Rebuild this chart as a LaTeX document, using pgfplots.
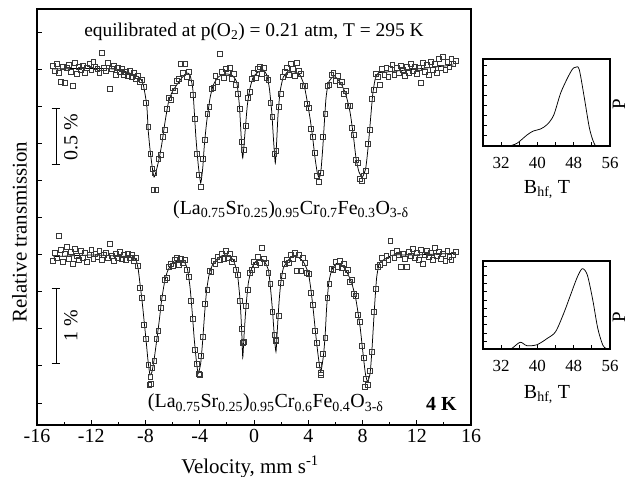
\documentclass[border=0pt]{standalone}
\usepackage{fontspec}
\setmainfont{Liberation Serif}
\usepackage{pgfplots}
\pgfplotsset{compat=1.18}
\begin{document}
\begin{tikzpicture}
\useasboundingbox (0,0) rectangle (630bp,477bp);
\pgfplotsset{
  myframe/.style={
    scale only axis, anchor=south west,
    tick pos=left, tick align=inside,
    axis line style={line width=1.1bp},
    every tick/.style={black, line width=0.8bp},
    major tick length=5bp, minor tick length=3bp,
    /pgf/number format/assume math mode=true,
    yticklabels={},
  },
  sq/.style={only marks, mark=square, mark size=2.4bp, mark options={draw=black!78, line width=0.6bp, fill=none}},
  fit/.style={black, line width=0.75bp, smooth, tension=0.35, mark=none},
}
% ---------------- main axis ----------------
\begin{axis}[myframe,
  at={(37bp,52bp)}, width=434bp, height=416bp,
  xmin=-16, xmax=16, ymin=0, ymax=416,
  xtick={-16,-12,...,16}, minor xtick={-14,-10,...,14},
  ytick={22,59.1,96.2,133.3,170.4,207.5,244.6,281.7,318.8,355.9,393},
  xticklabel style={font=\fontsize{20}{24}\selectfont, yshift=-1bp},
]
% 295 K spectrum
\addplot[sq] coordinates {
(-14.85,359) (-14.70,354) (-14.55,361) (-14.40,352) (-14.25,343) (-14.10,358) (-13.95,342) (-13.80,357)
(-13.65,360) (-13.50,353) (-13.35,339) (-13.20,362) (-13.05,351) (-12.90,358) (-12.75,355) (-12.60,359)
(-12.45,352) (-12.30,357) (-12.15,361) (-12.00,355) (-11.85,363) (-11.70,358) (-11.55,356) (-11.40,352)
(-11.25,372) (-11.10,357) (-10.95,354) (-10.80,362) (-10.65,336) (-10.50,356) (-10.35,359) (-10.20,350)
(-10.05,357) (-9.90,353) (-9.75,356) (-9.60,350) (-9.45,353) (-9.30,349) (-9.15,354) (-9.00,348)
(-8.85,352) (-8.70,346) (-8.55,349) (-8.40,343) (-8.25,345) (-8.10,338) (-7.95,322) (-7.80,298)
(-7.65,271) (-7.50,256) (-7.42,235) (-7.35,252) (-7.20,235) (-7.05,266) (-6.90,270) (-6.75,288)
(-6.60,295) (-6.45,316) (-6.30,327) (-6.15,325) (-6.00,337) (-5.85,334) (-5.70,344) (-5.55,346)
(-5.40,361) (-5.25,352) (-5.10,361) (-4.95,348) (-4.80,353) (-4.65,342) (-4.50,330) (-4.35,306)
(-4.20,271) (-4.05,250) (-3.90,238) (-3.75,266) (-3.60,285) (-3.45,311) (-3.30,318) (-3.15,336)
(-3.00,337) (-2.85,349) (-2.70,343) (-2.55,371) (-2.40,353) (-2.25,347) (-2.10,356) (-1.95,352)
(-1.80,357) (-1.65,346) (-1.50,351) (-1.35,340) (-1.20,331) (-1.05,316) (-0.90,283) (-0.75,275)
(-0.60,299) (-0.45,327) (-0.30,333) (-0.15,346) (0.00,352) (0.15,347) (0.30,356) (0.45,358)
(0.60,351) (0.75,357) (0.90,347) (1.05,345) (1.20,322) (1.35,308) (1.50,271) (1.65,274)
(1.80,318) (1.95,331) (2.10,348) (2.25,353) (2.40,357) (2.55,350) (2.70,361) (2.85,356)
(3.00,349) (3.15,362) (3.30,354) (3.45,351) (3.60,339) (3.75,339) (3.90,321) (4.05,317)
(4.20,296) (4.35,288) (4.50,272) (4.65,249) (4.80,243) (4.95,252) (5.10,288) (5.25,311)
(5.40,339) (5.55,340) (5.70,350) (5.85,352) (6.00,344) (6.15,349) (6.30,340) (6.45,343)
(6.60,331) (6.75,334) (6.90,319) (7.05,319) (7.20,297) (7.35,290) (7.50,265) (7.65,262)
(7.80,246) (7.95,244) (8.10,249) (8.25,254) (8.40,281) (8.55,295) (8.70,326) (8.85,335)
(9.00,351) (9.15,348) (9.30,340) (9.45,356) (9.60,350) (9.75,357) (9.90,348) (10.05,356)
(10.20,360) (10.35,350) (10.50,357) (10.65,352) (10.80,359) (10.95,355) (11.10,349) (11.25,358)
(11.40,352) (11.55,361) (11.70,354) (11.85,358) (12.00,351) (12.15,357) (12.30,342) (12.45,362)
(12.60,353) (12.75,360) (12.90,350) (13.05,363) (13.20,355) (13.35,361) (13.50,352) (13.65,366)
(13.80,357) (13.95,368) (14.10,355) (14.25,363) (14.40,358) (14.55,366) (14.70,361) (14.85,364)
};
\addplot[fit] coordinates {
(-14.8,356) (-13,356.5) (-11,356.5) (-10,355.5) (-9.6,354) (-9.0,351) (-8.4,347) (-8.16,340)
(-7.91,320) (-7.79,293) (-7.62,270) (-7.37,248) (-7.05,263) (-6.81,280) (-6.56,303) (-6.32,322)
(-6.07,332) (-5.70,340) (-5.33,347) (-4.96,352) (-4.72,350) (-4.52,337) (-4.40,313) (-4.28,287)
(-4.11,260) (-3.93,242) (-3.78,257) (-3.66,280) (-3.49,303) (-3.24,327) (-3.0,340) (-2.63,348)
(-2.14,351) (-1.65,350) (-1.28,343) (-1.08,320) (-0.94,287) (-0.83,267) (-0.66,293) (-0.49,320)
(-0.29,337) (-0.05,348) (0.32,353) (0.69,355) (0.94,350) (1.13,337) (1.31,313) (1.43,287)
(1.57,262) (1.67,283) (1.77,310) (1.92,333) (2.16,348) (2.53,353) (3.02,353) (3.39,350)
(3.69,340) (3.88,327) (4.13,307) (4.33,287) (4.50,267) (4.67,252) (4.82,247) (4.94,255)
(5.07,277) (5.19,303) (5.31,327) (5.48,342) (5.80,348) (6.10,347) (6.47,340) (6.78,330)
(7.08,313) (7.32,290) (7.52,267) (7.74,253) (7.99,248) (8.24,257) (8.43,280) (8.60,307)
(8.75,330) (8.92,345) (9.17,352) (9.78,353) (11.26,355) (12.73,357) (14.7,360)
};
% 4 K spectrum
\addplot[sq] coordinates {
(-14.85,164) (-14.70,172) (-14.55,167) (-14.40,189) (-14.25,175) (-14.10,163) (-13.95,171) (-13.80,178)
(-13.65,166) (-13.50,173) (-13.35,161) (-13.20,176) (-13.05,169) (-12.90,165) (-12.75,174) (-12.60,167)
(-12.45,172) (-12.30,163) (-12.15,170) (-12.00,175) (-11.85,166) (-11.70,171) (-11.55,168) (-11.40,174)
(-11.25,165) (-11.10,170) (-10.95,172) (-10.80,167) (-10.65,181) (-10.50,169) (-10.35,164) (-10.20,171)
(-10.05,167) (-9.90,173) (-9.75,166) (-9.60,170) (-9.45,165) (-9.30,171) (-9.15,167) (-9.00,170)
(-8.85,164) (-8.70,167) (-8.55,159) (-8.40,137) (-8.25,127) (-8.10,100) (-7.95,86) (-7.80,60)
(-7.72,40) (-7.65,48) (-7.60,41) (-7.50,57) (-7.35,64) (-7.20,86) (-7.05,94) (-6.90,117) (-6.75,127)
(-6.60,145) (-6.45,147) (-6.30,158) (-6.15,161) (-6.00,159) (-5.85,165) (-5.70,167) (-5.55,160)
(-5.40,166) (-5.25,162) (-5.10,165) (-4.95,155) (-4.80,148) (-4.65,124) (-4.50,106) (-4.35,75)
(-4.20,61) (-4.05,51) (-3.97,50) (-3.90,69) (-3.75,88) (-3.60,121) (-3.45,135) (-3.30,154) (-3.15,153)
(-3.00,164) (-2.85,161) (-2.70,168) (-2.55,165) (-2.40,171) (-2.25,166) (-2.10,174) (-1.95,167)
(-1.80,171) (-1.65,163) (-1.50,166) (-1.35,155) (-1.20,150) (-1.05,124) (-0.90,96) (-0.84,82)
(-0.75,83) (-0.60,119) (-0.45,135) (-0.30,152) (-0.15,155) (0.00,163) (0.15,160) (0.30,168)
(0.45,162) (0.60,177) (0.75,166) (0.90,162) (1.05,152) (1.20,141) (1.35,113) (1.50,90) (1.58,84)
(1.65,85) (1.80,109) (1.95,142) (2.10,149) (2.25,161) (2.40,165) (2.55,162) (2.70,170) (2.85,166)
(3.00,172) (3.15,154) (3.30,170) (3.45,154) (3.60,167) (3.75,162) (3.90,152) (4.05,151)
(4.20,132) (4.35,120) (4.50,94) (4.65,82) (4.80,60) (4.90,50) (4.95,52) (5.10,71) (5.25,87)
(5.40,127) (5.55,141) (5.70,156) (5.85,155) (6.00,163) (6.15,158) (6.30,164) (6.45,157)
(6.60,161) (6.75,152) (6.90,155) (7.05,143) (7.20,145) (7.35,131) (7.50,129) (7.65,110)
(7.80,103) (7.95,79) (8.10,67) (8.18,38) (8.25,46) (8.40,40) (8.55,54) (8.70,73) (8.85,113)
(9.00,136) (9.15,158) (9.30,160) (9.45,167) (9.60,162) (9.75,169) (9.90,165) (10.05,184)
(10.20,172) (10.35,167) (10.50,174) (10.65,170) (10.80,158) (10.95,171) (11.10,166) (11.25,158)
(11.40,173) (11.55,169) (11.70,176) (11.85,167) (12.00,172) (12.15,165) (12.30,175) (12.45,161)
(12.60,170) (12.75,174) (12.90,168) (13.05,172) (13.20,165) (13.35,177) (13.50,169) (13.65,173)
(13.80,166) (13.95,171) (14.10,164) (14.25,174) (14.40,168) (14.55,165) (14.70,170) (14.85,173)
};
\addplot[fit] coordinates {
(-14.8,168.3) (-12,170) (-10,169) (-9.14,168.3) (-8.70,165) (-8.53,155) (-8.41,141.7) (-8.26,125)
(-8.11,105) (-7.96,85) (-7.82,65) (-7.67,50) (-7.52,53.3) (-7.37,65) (-7.17,85) (-6.98,105)
(-6.81,125) (-6.61,141.7) (-6.39,153.3) (-6.07,161) (-5.58,164.3) (-5.16,163.3) (-4.92,156.7) (-4.72,138.3)
(-4.55,111.7) (-4.40,85) (-4.23,61.7) (-4.11,51.7) (-3.93,61.7) (-3.78,85) (-3.64,111.7) (-3.49,135)
(-3.29,151.7) (-3.0,161.7) (-2.51,168.3) (-2.01,170) (-1.53,165) (-1.23,151.7) (-1.03,125) (-0.91,95)
(-0.83,67.5) (-0.74,88.3) (-0.59,118.3) (-0.42,141.7) (-0.17,156.7) (0.20,164.3) (0.69,165) (1.06,155)
(1.23,135) (1.38,111.7) (1.50,88.3) (1.62,73.3) (1.72,95) (1.84,121.7) (1.97,141.7) (2.16,156.7)
(2.53,165) (2.90,169) (3.27,167.7) (3.64,163.3) (4.01,151.7) (4.20,135) (4.37,115) (4.57,88.3)
(4.74,68.3) (4.92,53.3) (5.11,68.3) (5.24,88.3) (5.36,118.3) (5.51,141.7) (5.73,155) (6.10,161.7)
(6.47,160) (6.84,153.3) (7.21,141.7) (7.52,125) (7.82,98.3) (8.01,75) (8.21,51.7) (8.38,43.3)
(8.56,51.7) (8.68,71.7) (8.80,98.3) (8.92,125) (9.05,148.3) (9.24,161.7) (9.54,165) (10.28,170)
(11.75,170) (14.82,171.7)
};
% scale bars
\draw[line width=0.9bp] (axis cs:-14.6,317) -- (axis cs:-14.6,261);
\draw[line width=0.9bp] (axis cs:-14.92,317) -- (axis cs:-14.30,317);
\draw[line width=0.9bp] (axis cs:-14.92,261) -- (axis cs:-14.30,261);
\node[rotate=90, font=\fontsize{20}{24}\selectfont] at (axis cs:-13.5,287.5) {0.5 \%};
\draw[line width=0.9bp] (axis cs:-14.6,137) -- (axis cs:-14.6,62);
\draw[line width=0.9bp] (axis cs:-14.92,137) -- (axis cs:-14.30,137);
\draw[line width=0.9bp] (axis cs:-14.92,62) -- (axis cs:-14.30,62);
\node[rotate=90, font=\fontsize{20}{24}\selectfont] at (axis cs:-13.5,99) {1 \%};
% texts
\node[font=\fontsize{19.5}{23}\selectfont] at (rel axis cs:0.5,0.945) {equilibrated at p(O\textsubscript{2}) = 0.21 atm, T = 295 K};
\node[anchor=base, font=\fontsize{20}{24}\selectfont] at (rel axis cs:0.585,0.507)
  {(La\textsubscript{0.75}Sr\textsubscript{0.25})\textsubscript{0.95}Cr\textsubscript{0.7}Fe\textsubscript{0.3}O\textsubscript{3-δ}};
\node[anchor=base, font=\fontsize{20}{24}\selectfont] at (rel axis cs:0.527,0.041)
  {(La\textsubscript{0.75}Sr\textsubscript{0.25})\textsubscript{0.95}Cr\textsubscript{0.6}Fe\textsubscript{0.4}O\textsubscript{3-δ}};
\node[anchor=base east, font=\fontsize{20}{24}\selectfont\bfseries] at (rel axis cs:0.975,0.036) {4 K};
\end{axis}
% axis titles of main plot
\node[rotate=90, font=\fontsize{21}{25}\selectfont] at (19.5bp,245bp) {Relative transmission};
\node[anchor=base, font=\fontsize{21}{25}\selectfont] at (250bp,4bp) {Velocity, mm s\textsuperscript{-1}};
% ---------------- top inset ----------------
\begin{axis}[myframe,
  at={(483bp,331bp)}, width=127bp, height=87bp,
  xmin=28, xmax=56, ymin=0, ymax=87,
  xtick={32,40,48,56}, minor xtick={28,36,44,52},
  ytick={11,21,...,81},
  major tick length=4bp, minor tick length=4bp,
  clip=false,
  xticklabel style={font=\fontsize{17}{20}\selectfont, yshift=-8bp},
]
\addplot[black, line width=0.75bp, smooth, tension=0.5] coordinates {
(33.8,0) (35.5,2.7) (37.7,11) (39.1,15) (40.7,17) (42.2,21.7) (43.6,31) (45.1,52.7)
(46.6,67.7) (47.7,76.7) (48.4,78.7) (49.2,76.7) (50.3,49.3) (51.4,19.3) (52.2,6) (52.8,0)
};
\node[anchor=base, font=\fontsize{20}{24}\selectfont] at (rel axis cs:0.504,-0.55) {B\textsubscript{hf,} T};
\node[rotate=90, inner sep=0pt, font=\fontsize{19}{22}\selectfont] at (rel axis cs:1.07,0.483) {P};
\end{axis}
% ---------------- bottom inset ----------------
\begin{axis}[myframe,
  at={(483bp,128bp)}, width=127bp, height=88bp,
  xmin=28, xmax=56, ymin=0, ymax=88,
  xtick={32,40,48,56}, minor xtick={28,36,44,52},
  ytick={7.5,15.8,...,84},
  major tick length=4bp, minor tick length=4bp,
  clip=false,
  xticklabel style={font=\fontsize{17}{20}\selectfont, yshift=-8bp},
]
\addplot[black, line width=0.75bp, smooth, tension=0.5] coordinates {
(33.6,0) (34.4,0.7) (36.2,6.7) (37.7,3.3) (39.9,4.3) (42.2,10.7) (44.0,17.3) (45.8,35.7)
(47.3,54) (48.8,72) (49.9,80.3) (51.0,74) (52.2,49) (53.3,20.7) (54.4,4) (55.1,0.7) (55.6,0)
};
\node[anchor=base, font=\fontsize{20}{24}\selectfont] at (rel axis cs:0.504,-0.56) {B\textsubscript{hf,} T};
\node[rotate=90, inner sep=0pt, font=\fontsize{19}{22}\selectfont] at (rel axis cs:1.07,0.358) {P};
\end{axis}
\end{tikzpicture}
\end{document}
